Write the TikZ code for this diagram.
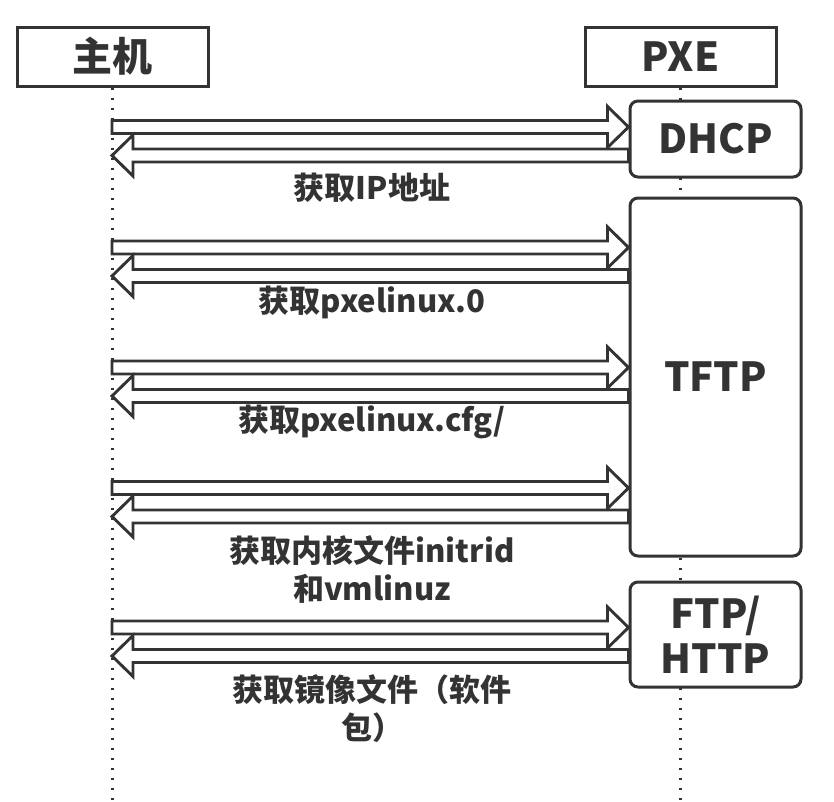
\documentclass[tikz,border=0pt]{standalone}
\usepackage{fontspec}
\setmainfont{Noto Sans CJK SC}
\usetikzlibrary{calc}
\definecolor{ink}{HTML}{333333}
\begin{document}
\begin{tikzpicture}[x=1pt,y=-1pt,line join=miter,
  hdr/.style={draw=ink,line width=3pt,fill=white,minimum width=191pt,minimum height=59pt,inner sep=0pt,font=\fontsize{40}{40}\selectfont\bfseries,text=ink},
  svc/.style={draw=ink,line width=3pt,fill=white,rounded corners=8pt,minimum width=171pt,inner sep=0pt,align=center,font=\fontsize{40}{45}\selectfont\bfseries,text=ink},
  lbl/.style={text=ink,align=center,font=\fontsize{31}{38}\selectfont\bfseries,inner sep=0pt},
  life/.style={draw=ink,line width=2.8pt,dash pattern=on 2.8pt off 7.2pt},
  rarrow/.style={draw=ink,line width=2.9pt,fill=white,to path={let \p1=(\tikztostart), \p2=(\tikztotarget) in (\x1,\y1+6.5pt) -- (\x2-21pt,\y1+6.5pt) -- (\x2-21pt,\y1+20.5pt) -- (\x2,\y1) -- (\x2-21pt,\y1-20.5pt) -- (\x2-21pt,\y1-6.5pt) -- (\x1,\y1-6.5pt) -- cycle}},
  larrow/.style={draw=ink,line width=2.9pt,fill=white,to path={let \p1=(\tikztostart), \p2=(\tikztotarget) in (\x1,\y1+6.5pt) -- (\x2+21pt,\y1+6.5pt) -- (\x2+21pt,\y1+20.5pt) -- (\x2,\y1) -- (\x2+21pt,\y1-20.5pt) -- (\x2+21pt,\y1-6.5pt) -- (\x1,\y1-6.5pt) -- cycle}}]
\useasboundingbox (0,0) rectangle (834,801);
\coordinate (bot) at (0,801);
% headers
\node[hdr] (host) at (112.5,56.5) {主机};
\node[hdr] (pxe) at (680.5,56.5) {PXE};
% lifelines
\draw[life] (host.south) -- (host.south |- bot);
\draw[life] (pxe.south) -- (pxe.south |- bot);
% service boxes
\node[svc,minimum height=76pt] (dhcp) at (715.5,139) {DHCP};
\node[svc,minimum height=358pt] (tftp) at (715.5,377) {TFTP};
\node[svc,minimum height=105pt] (ftp) at (715.5,634.5) {FTP/\\HTTP};
% arrow anchors on host lifeline
\coordinate (a1) at (112,127);   \coordinate (b1) at (112,155.5);
\coordinate (a2) at (112,247.5); \coordinate (b2) at (112,276);
\coordinate (a3) at (112,367.5); \coordinate (b3) at (112,396);
\coordinate (a4) at (112,488);   \coordinate (b4) at (112,516.5);
\coordinate (a5) at (112,627.5); \coordinate (b5) at (112,656);
\draw[rarrow] (a1) to (dhcp.west |- a1);
\draw[larrow] (dhcp.west |- b1) to (b1);
\draw[rarrow] (a2) to (tftp.west |- a2);
\draw[larrow] (tftp.west |- b2) to (b2);
\draw[rarrow] (a3) to (tftp.west |- a3);
\draw[larrow] (tftp.west |- b3) to (b3);
\draw[rarrow] (a4) to (tftp.west |- a4);
\draw[larrow] (tftp.west |- b4) to (b4);
\draw[rarrow] (a5) to (ftp.west |- a5);
\draw[larrow] (ftp.west |- b5) to (b5);
% labels
\node[lbl] (l1) at (372,188) {获取IP地址};
\node[lbl] (l2) at (372,302) {获取pxelinux.0};
\node[lbl] (l3) at (372,422) {获取pxelinux.cfg/};
\node[lbl] (l4) at (372,569) {获取内核文件initrid\\和vmlinuz};
\node[lbl] (l5) at (372,708.5) {获取镜像文件（软件\\包）};
\end{tikzpicture}
\end{document}
